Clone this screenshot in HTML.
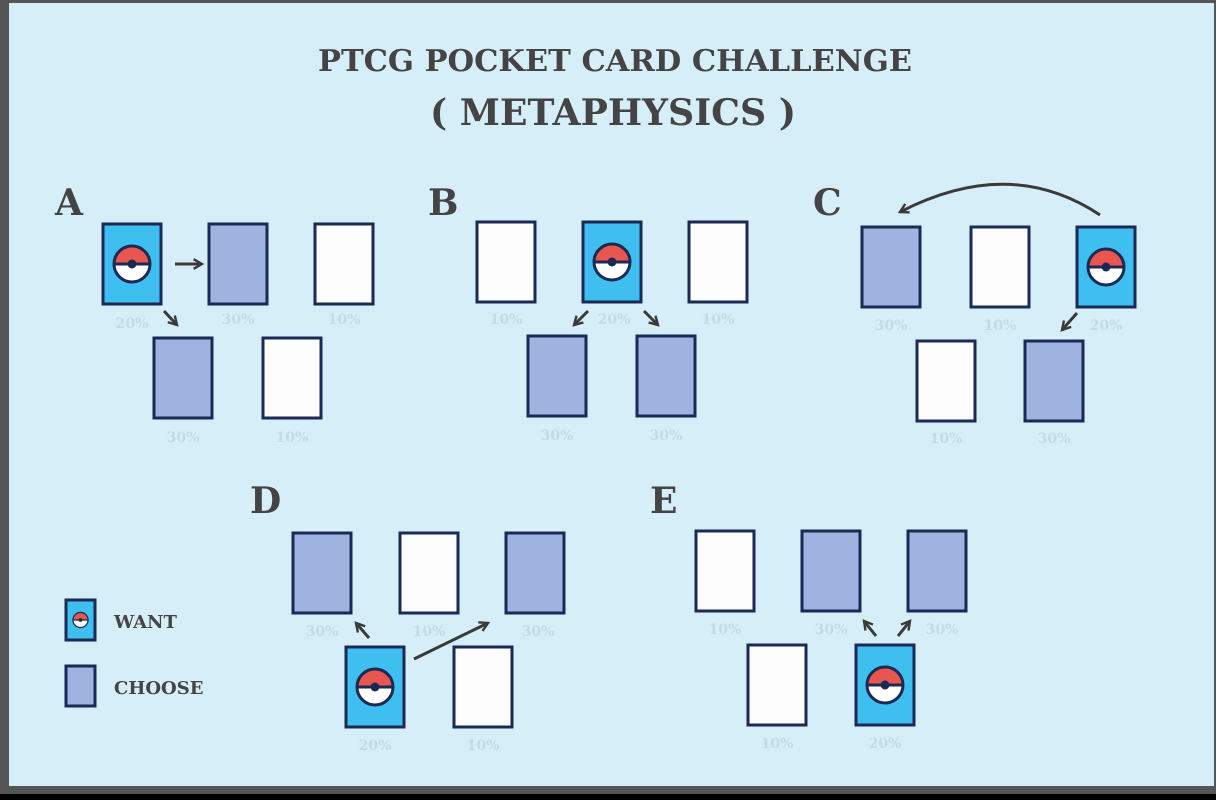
<!DOCTYPE html>
<html><head><meta charset="utf-8"><style>
html,body{margin:0;padding:0;background:#000}
svg{display:block}
.t{font-family:"DejaVu Serif","Liberation Serif",serif;font-weight:bold;fill:#444}
.p{font-family:"DejaVu Serif","Liberation Serif",serif;font-weight:bold;fill:#c3dbe6;font-size:14px;text-anchor:middle}
.c{stroke:#1b2a55;stroke-width:3}
.ar{stroke:#3a3a3a;stroke-width:3;fill:none;marker-end:url(#m)}
</style></head><body>
<svg width="1216" height="800" viewBox="0 0 1216 800" xmlns="http://www.w3.org/2000/svg">
<defs>
<marker id="m" viewBox="0 0 10 10" refX="8" refY="5" markerWidth="4" markerHeight="4" orient="auto"><path d="M1,1 L8,5 L1,9" fill="none" stroke="#3a3a3a" stroke-width="2"/></marker>
<g id="ball"><path d="M-18,0 A18,18 0 0 1 18,0 Z" fill="#e8574f"/><path d="M-18,0 A18,18 0 0 0 18,0 Z" fill="#fff"/><circle r="18" fill="none" stroke="#1b2a55" stroke-width="3"/><line x1="-18" y1="0" x2="18" y2="0" stroke="#1b2a55" stroke-width="3"/><circle r="4.5" fill="#1b2a55"/></g>
</defs>
<rect width="1216" height="800" fill="#000"/>
<rect x="0" y="0" width="1216" height="794" fill="#555"/>
<rect x="9" y="3" width="1205" height="783" fill="#d6eef8"/>
<text class="t" x="318" y="71" font-size="30" textLength="594" lengthAdjust="spacingAndGlyphs">PTCG POCKET CARD CHALLENGE</text>
<text class="t" x="430" y="125" font-size="36" textLength="366" lengthAdjust="spacingAndGlyphs">( METAPHYSICS )</text>
<text class="t" x="55" y="215" font-size="36">A</text>
<text class="t" x="428" y="215" font-size="36">B</text>
<text class="t" x="813" y="215" font-size="36">C</text>
<text class="t" x="250" y="513" font-size="36">D</text>
<text class="t" x="650" y="513" font-size="36">E</text>
<g class="c">
<rect x="103" y="224" width="58" height="80" fill="#3fbef0"/>
<rect x="209" y="224" width="58" height="80" fill="#9fb3e0"/>
<rect x="315" y="224" width="58" height="80" fill="#fdfdfd"/>
<rect x="154" y="338" width="58" height="80" fill="#9fb3e0"/>
<rect x="263" y="338" width="58" height="80" fill="#fdfdfd"/>
<rect x="477" y="222" width="58" height="80" fill="#fdfdfd"/>
<rect x="583" y="222" width="58" height="80" fill="#3fbef0"/>
<rect x="689" y="222" width="58" height="80" fill="#fdfdfd"/>
<rect x="528" y="336" width="58" height="80" fill="#9fb3e0"/>
<rect x="637" y="336" width="58" height="80" fill="#9fb3e0"/>
<rect x="862" y="227" width="58" height="80" fill="#9fb3e0"/>
<rect x="971" y="227" width="58" height="80" fill="#fdfdfd"/>
<rect x="1077" y="227" width="58" height="80" fill="#3fbef0"/>
<rect x="917" y="341" width="58" height="80" fill="#fdfdfd"/>
<rect x="1025" y="341" width="58" height="80" fill="#9fb3e0"/>
<rect x="293" y="533" width="58" height="80" fill="#9fb3e0"/>
<rect x="400" y="533" width="58" height="80" fill="#fdfdfd"/>
<rect x="506" y="533" width="58" height="80" fill="#9fb3e0"/>
<rect x="346" y="647" width="58" height="80" fill="#3fbef0"/>
<rect x="454" y="647" width="58" height="80" fill="#fdfdfd"/>
<rect x="696" y="531" width="58" height="80" fill="#fdfdfd"/>
<rect x="802" y="531" width="58" height="80" fill="#9fb3e0"/>
<rect x="908" y="531" width="58" height="80" fill="#9fb3e0"/>
<rect x="748" y="645" width="58" height="80" fill="#fdfdfd"/>
<rect x="856" y="645" width="58" height="80" fill="#3fbef0"/>
<rect x="66" y="600" width="29" height="40" fill="#3fbef0"/>
<rect x="66" y="666" width="29" height="40" fill="#9fb3e0"/>
</g>
<use href="#ball" x="132" y="264"/>
<use href="#ball" x="612" y="262"/>
<use href="#ball" x="1106" y="267"/>
<use href="#ball" x="375" y="687"/>
<use href="#ball" x="885" y="685"/>
<g transform="translate(80.5,620) scale(0.42)"><use href="#ball"/></g>
<text class="t" x="114" y="628" font-size="18">WANT</text>
<text class="t" x="114" y="694" font-size="18">CHOOSE</text>
<line class="ar" x1="175" y1="264" x2="202" y2="264"/>
<line class="ar" x1="164" y1="311" x2="177" y2="325"/>
<line class="ar" x1="588" y1="311" x2="574" y2="325"/>
<line class="ar" x1="644" y1="311" x2="658" y2="325"/>
<path class="ar" d="M1100,215 Q1010,155 900,212"/>
<line class="ar" x1="1077" y1="313" x2="1062" y2="330"/>
<line class="ar" x1="369" y1="638" x2="356" y2="623"/>
<line class="ar" x1="414" y1="659" x2="488" y2="623"/>
<line class="ar" x1="876" y1="636" x2="864" y2="621"/>
<line class="ar" x1="898" y1="636" x2="910" y2="621"/>
<text class="p" x="132" y="328">20%</text><text class="p" x="238" y="324">30%</text><text class="p" x="344" y="324">10%</text>
<text class="p" x="183" y="442">30%</text><text class="p" x="292" y="442">10%</text>
<text class="p" x="506" y="324">10%</text><text class="p" x="614" y="324">20%</text><text class="p" x="718" y="324">10%</text>
<text class="p" x="557" y="440">30%</text><text class="p" x="666" y="440">30%</text>
<text class="p" x="891" y="330">30%</text><text class="p" x="1000" y="330">10%</text><text class="p" x="1106" y="330">20%</text>
<text class="p" x="946" y="443">10%</text><text class="p" x="1054" y="443">30%</text>
<text class="p" x="322" y="636">30%</text><text class="p" x="429" y="636">10%</text><text class="p" x="538" y="636">30%</text>
<text class="p" x="375" y="750">20%</text><text class="p" x="483" y="750">10%</text>
<text class="p" x="725" y="634">10%</text><text class="p" x="831" y="634">30%</text><text class="p" x="942" y="634">30%</text>
<text class="p" x="777" y="748">10%</text><text class="p" x="885" y="748">20%</text>
</svg>
</body></html>
